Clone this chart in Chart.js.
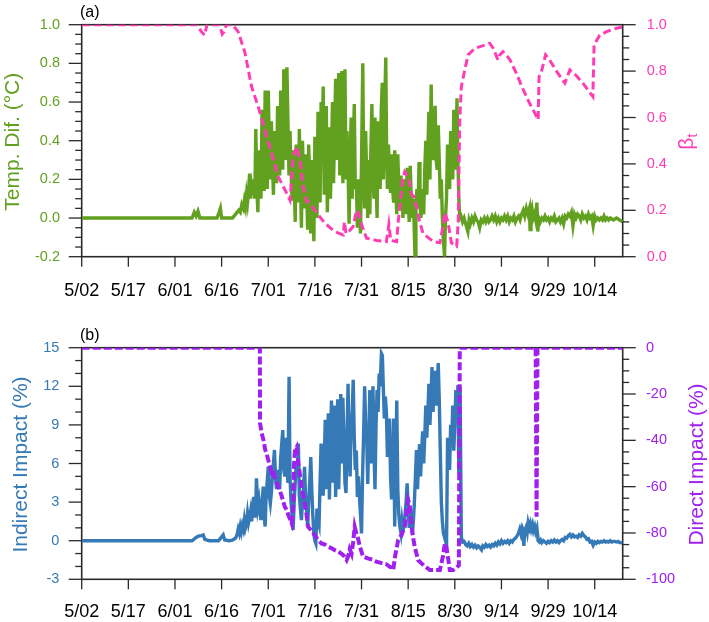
<!DOCTYPE html>
<html><head><meta charset="utf-8">
<script src="https://cdn.jsdelivr.net/npm/chart.js@4/dist/chart.umd.min.js"></script>
<style>
html,body{margin:0;padding:0;background:#fff;width:709px;height:622px;overflow:hidden}
canvas{position:absolute;left:0}
#ca{top:0}#cb{top:311px}
</style></head><body>
<canvas id="ca" width="709" height="311"></canvas>
<canvas id="cb" width="709" height="311"></canvas>
<script>
// ---------- data (day index since 5/02) ----------
const xTickDays = [0,15,30,45,60,75,90,105,120,135,150,165];
const xTickLabels = ['5/02','5/17','6/01','6/16','7/01','7/16','7/31','8/15','8/30','9/14','9/29','10/14'];
const tempTicks = [-0.2,0.0,0.2,0.4,0.6,0.8,1.0];
const betaTicks = [0.0,0.2,0.4,0.6,0.8,1.0];
const indirectTicks = [-3,0,3,6,9,12,15];
const directTicks = [-100,-80,-60,-40,-20,0];

// Temp. Dif. (°C)  [day, value]
const tempDif = [
[0,0],[35.5,0],[36.2,0.03],[36.8,0.01],[37.4,0.035],[38,0],[43.5,0],[44.2,0.03],[44.6,0.05],[45,0],[48.5,0],[49.5,0.02],[50.5,0.04],[51,0.03],[51.5,0.07],
[52,0.05],[52.33,0.09],[52.67,0.06],[53,0.12],[53.33,0.08],[53.67,0.14],[54,0.23],[54.33,0.1],[54.67,0.16],[55,0.12],[55.33,0.2],[55.67,0.1],
[56,0.46],[56.33,0.15],[56.67,0.03],[57,0.35],[57.33,0.2],[57.67,0.1],[58,0.56],[58.33,0.3],[58.67,0.14],[59,0.66],[59.33,0.35],[59.67,0.15],
[60,0.66],[60.33,0.4],[60.67,0.2],[61,0.5],[61.33,0.3],[61.67,0.12],[62,0.45],[62.33,0.35],[62.67,0.18],[63,0.58],[63.33,0.4],[63.67,0.22],
[64,0.66],[64.33,0.45],[64.67,0.25],[65,0.77],[65.33,0.5],[65.67,0.3],[66,0.78],[66.33,0.5],[66.67,0.22],[67,0.45],[67.33,0.25],[67.67,0.09],
[68,0.35],[68.33,0.2],[68.67,-0.02],[69,0.38],[69.33,0.25],[69.67,0.08],[70,0.46],[70.33,0.2],[70.67,-0.05],[71,0.4],[71.33,0.22],[71.67,0.05],
[72,0.33],[72.33,0.15],[72.67,-0.06],[73,0.38],[73.33,0.2],[73.67,-0.08],[74,0.3],[74.33,0.1],[74.67,-0.12],[75,0.42],[75.33,0.2],[75.67,0.0],
[76,0.55],[76.33,0.3],[76.67,0.08],[77,0.6],[77.33,0.4],[77.67,0.68],[78,0.12],[78.33,0.35],[78.67,0.58],[79,0.03],[79.33,0.3],[79.67,0.47],
[80,0.1],[80.33,0.35],[80.67,0.6],[81,0.18],[81.33,0.45],[81.67,0.72],[82,0.3],[82.33,0.5],[82.67,0.75],[83,0.22],[83.33,0.5],[83.67,0.76],
[84,0.18],[84.33,0.5],[84.67,0.77],[85,0.2],[85.33,0.45],[85.67,0.25],[86,-0.03],[86.33,0.3],[86.67,0.52],[87,0.1],[87.33,0.35],[87.67,0.59],
[88,0.15],[88.33,0.2],[88.67,-0.05],[89,0.2],[89.33,0.05],[89.67,-0.08],[90,0.3],[90.4,0.8],[90.67,0.3],[91,0.05],[91.33,0.45],[91.67,0.2],
[92,0.0],[92.33,0.3],[92.67,0.02],[93,0.35],[93.33,0.59],[93.67,0.25],[94,0.1],[94.33,0.52],[94.67,0.2],[95,0.0],[95.33,0.5],[95.67,0.3],
[96,0.15],[96.33,0.55],[96.67,0.7],[97,0.2],[97.33,0.5],[97.8,0.83],[98.1,0.3],[98.33,0.15],[98.67,0.38],[99,0.2],[99.33,0.13],[99.67,0.33],
[100,0.15],[100.33,0.08],[100.67,0.35],[101,0.15],[101.33,0.02],[101.67,0.33],[102,0.15],[102.33,0.05],[102.67,0.22],[103,0.1],[103.33,0.0],[103.67,0.2],
[104,0.08],[104.33,0.02],[104.67,0.26],[105,0.1],[105.33,-0.02],[105.67,0.27],[106,0.1],[106.33,0.0],[106.67,0.1],[107.2,-0.2],[107.5,0.05],[107.8,0.15],
[108.2,0.05],[108.5,0.29],[108.8,0.1],[109.1,0.0],[109.4,0.15],[109.7,0.05],[110,0.02],[110.33,0.25],[110.67,0.4],[111,0.12],[111.33,0.35],[111.67,0.55],
[112,0.2],[112.4,0.69],[112.7,0.35],[113,0.3],[113.33,0.45],[113.67,0.58],[114,0.3],[114.33,0.25],[114.67,0.48],[115,0.3],[115.33,0.1],[115.67,0.2],
[116,0.0],[116.33,-0.12],[116.7,-0.2],[117,0.0],[117.33,0.1],[117.67,0.38],[118,0.2],[118.33,0.15],[118.67,0.45],[119,0.3],[119.33,0.2],[119.67,0.56],
[120,0.4],[120.33,0.25],[120.7,0.62],[121,0.3],[121.3,0.1],[121.6,0.0],
[122,0.01],[122.5,-0.02],[123,0.0],[123.5,-0.03],[124.2,-0.07],[124.6,-0.01],[125,-0.03],[125.5,0.0],[126,-0.02],[126.5,0.01],[127,-0.01],[127.5,-0.02],
[128,-0.05],[128.5,-0.01],[129,-0.02],[129.5,0.0],[130,-0.02],[130.5,0.0],[131,-0.02],[131.5,-0.01],[132,0.01],[132.5,-0.01],[133,0.01],[133.5,-0.02],
[134,0.0],[134.5,-0.02],[135,0.0],[135.5,-0.01],[136,0.01],[136.5,-0.01],[137,0.01],[137.5,-0.02],[138,0.0],[138.5,-0.01],[139,0.01],[139.5,-0.02],
[140,0.0],[140.5,0.01],[141,-0.01],[141.5,0.02],[142,0.04],[142.5,0.01],[143,0.05],[143.5,0.02],[144,0.05],[144.2,-0.06],[144.5,0.03],[144.8,0.05],
[145.2,0.0],[145.6,0.02],[146,-0.01],[146.4,0.08],[146.7,-0.07],[147,0.0],[147.5,-0.02],[148,0.0],[148.5,-0.01],[149,0.01],[149.5,-0.01],[150,0.0],
[150.5,-0.02],[151,0.0],[151.5,-0.01],[152,0.01],[152.5,-0.02],[153,-0.01],[153.5,0.0],[154,-0.02],[154.5,0.0],[155,-0.03],[155.5,0.01],[156,0.0],
[156.5,0.02],[157,0.01],[157.5,0.03],[158,-0.04],[158.5,0.02],[159,0.0],[159.5,0.02],[160,0.01],[160.5,-0.01],[161,0.02],[161.5,0.0],[162,0.01],
[162.5,-0.01],[163,0.02],[163.5,0.0],[164,0.01],[164.5,-0.04],[165,0.01],[165.5,-0.01],[166,0.0],[166.5,-0.01],[167,0.0],[167.5,-0.01],[168,0.01],
[168.5,-0.01],[169,0.0],[169.5,-0.01],[170,0.0],[171,-0.01],[172,0.0],[173,-0.01],[174,-0.02]
];

// beta_t  [day, value]
const betaT = [
[0,1],[37,1],[38.5,0.97],[39.5,0.955],[40.3,1],[44.3,1],[45.2,0.96],[45.8,0.97],[46.5,1],[48.5,1],[50.3,0.97],[52.5,0.88],[54.6,0.735],[56.8,0.645],[58.9,0.545],[61.1,0.445],[63.2,0.345],[65.3,0.29],[67,0.244],[68,0.43],[69.1,0.474],[70.2,0.42],[71.2,0.3],[72.3,0.24],[73.5,0.23],[75,0.2],[78.2,0.144],[81.4,0.108],[84.1,0.094],[84.5,0.15],[85,0.1],[86,0.11],[87.3,0.13],[88.4,0.2],[89,0.19],[90,0.14],[91.6,0.08],[93.5,0.075],[94.8,0.07],[98,0.065],[98.8,0.14],[99.4,0.07],[101.3,0.065],[101.8,0.15],[102.3,0.215],[103.2,0.33],[103.9,0.366],[105,0.345],[106.1,0.27],[106.8,0.26],[107.7,0.215],[108.7,0.15],[109.8,0.1],[113,0.066],[115.2,0.06],[116.2,0.13],[116.8,0.19],[117.8,0.15],[118.9,0.06],[120,0.05],[120.6,0.045],[121.1,0.15],[121.6,0.59],[122.1,0.733],[123.2,0.805],[124.3,0.87],[126.4,0.898],[129.1,0.91],[131.2,0.92],[132.3,0.9],[133.9,0.848],[134.5,0.87],[135.5,0.884],[137.7,0.85],[139.8,0.79],[142,0.72],[144.1,0.66],[145.7,0.62],[146.8,0.59],[147.1,0.776],[147.9,0.8],[149.2,0.87],[150.5,0.848],[152.7,0.8],[155.4,0.748],[157,0.805],[159.1,0.78],[161.2,0.748],[164.4,0.69],[164.8,0.913],[166.6,0.955],[168.8,0.97],[172,0.985],[174,0.99]
];

// Indirect Impact (%)  [day, value]
const indirectImpact = [
[0,0],[35.5,0],[36.5,0.2],[37.5,0.35],[38.5,0.4],[39.1,0.45],[39.6,0.1],[41,0],[44,0],[45,0.3],[45.5,0.45],[46,0.05],[47.5,0],[48.5,0.05],[49.5,0.2],
[50,0.5],[50.33,0.9],[50.67,0.6],[51,1.1],[51.33,0.7],[51.67,1.2],[52,0.9],[52.33,1.6],[52.67,1.0],[53,1.3],[53.33,2.1],[53.67,1.4],
[54,1.8],[54.33,2.3],[54.67,1.5],[55,2.6],[55.33,3.4],[55.67,1.8],[56,2.8],[56.2,4.85],[56.67,2.6],[57,3.1],[57.33,2.2],[57.67,1.6],
[58,3.0],[58.4,4.2],[58.67,2.0],[59,1.1],[59.33,3.5],[59.67,4.6],[60,5.75],[60.33,3.5],[60.67,2.9],[61,3.7],[61.33,5.0],[61.67,6.0],
[62,7.05],[62.33,5.0],[62.67,4.0],[63,5.5],[63.33,4.5],[63.67,4.0],[64,6.5],[64.33,7.5],[64.67,8.6],[65,5.5],[65.33,5.0],[65.67,8.0],
[66,6.0],[66.33,4.5],[66.7,12.75],[67,5.0],[67.33,3.0],[67.67,2.0],[68,0.83],[68.33,3.0],[68.67,4.5],[69,6.0],[69.33,5.0],[69.67,7.55],
[70,3.5],[70.33,2.5],[70.67,1.6],[71,3.0],[71.33,4.0],[71.67,5.75],[72,3.5],[72.33,2.5],[72.67,1.1],[73,3.0],[73.33,4.5],[73.67,6.5],
[74,4.0],[74.33,2.0],[74.67,0.5],[75,0.0],[75.3,-0.2],[75.67,2.5],[76,1.5],[76.33,1.2],[76.67,4.5],[77,7.55],[77.33,5.0],[77.67,3.5],
[78,6.0],[78.33,9.4],[78.67,4.0],[79,7.0],[79.33,9.9],[79.67,3.2],[80,7.5],[80.33,10.9],[80.67,4.5],[81,8.0],[81.33,10.5],[81.67,3.4],
[82,7.0],[82.33,11.0],[82.67,4.0],[83,8.0],[83.33,11.4],[83.67,6.0],[84,11.1],[84.33,8.0],[84.67,4.5],[85,3.7],[85.33,8.0],[85.67,12.2],
[86,7.0],[86.33,5.0],[86.67,9.1],[87,10.0],[87.33,12.5],[87.67,8.0],[88,5.5],[88.33,7.0],[88.67,3.4],[89,5.0],[89.33,3.4],[89.67,2.0],
[90,0.57],[90.33,5.0],[90.67,8.3],[91,12.0],[91.33,9.0],[91.67,8.0],[92,4.4],[92.33,8.0],[92.67,11.7],[93,6.0],[93.33,9.0],[93.67,12.0],
[94,7.0],[94.33,4.0],[94.67,9.0],[95,11.7],[95.33,10.0],[95.67,13.0],[96,12.0],[96.4,14.55],[96.7,14.4],[97,12.0],[97.33,9.5],[97.67,11.2],
[98,10.0],[98.33,6.5],[98.67,8.5],[99,9.5],[99.33,5.0],[99.67,3.2],[100,6.0],[100.33,9.5],[100.67,1.1],[101,5.0],[101.33,10.9],[101.67,4.0],
[102,2.0],[102.33,1.1],[102.67,0.6],[103,1.5],[103.33,0.8],[103.67,1.1],[104,2.0],[104.33,3.0],[104.67,4.45],[105,2.5],[105.33,1.0],[105.67,2.5],
[106,1.2],[106.33,0.5],[106.67,1.5],[107,3.0],[107.33,5.0],[107.67,7.05],[108,4.0],[108.33,6.0],[108.67,7.5],[109,5.0],[109.33,7.0],[109.67,8.5],
[110,6.0],[110.33,8.0],[110.67,10.5],[111,8.0],[111.33,10.0],[111.67,12.2],[112,9.0],[112.33,11.0],[112.67,13.5],[113,10.0],[113.33,12.0],[113.67,13.2],
[114,10.5],[114.33,12.0],[114.67,13.8],[115,11.0],[115.33,7.0],[115.67,3.0],[116,1.5],[116.33,0.6],[116.67,0.3],[117,0.5],[117.33,-0.7],[117.67,8.0],
[118,6.5],[118.33,5.5],[118.67,9.0],[119,7.5],[119.33,10.5],[119.67,7.0],[120,9.0],[120.33,11.7],[120.67,9.5],[121,12.1],[121.3,5.2],[121.7,12.0],
[122.1,0.3],[122.5,-0.1],[123,-0.05],[123.5,-0.3],[124,-0.4],[124.5,-0.2],[125,-0.45],[125.5,-0.3],[126,-0.5],[126.5,-0.35],[127,-0.55],[127.5,-0.4],
[128,-0.5],[128.6,-0.7],[129,-0.4],[129.5,-0.5],[130,-0.3],[130.5,-0.45],[131,-0.35],[131.5,-0.5],[132,-0.3],[132.5,-0.4],[133,-0.2],[133.5,-0.35],
[134,-0.1],[134.5,-0.25],[135,0.0],[135.5,-0.2],[136,-0.05],[136.5,-0.15],[137,0.0],[137.5,-0.2],[138,0.0],[138.5,-0.1],[139,0.1],[139.5,0.2],
[140,0.35],[140.5,0.6],[140.9,0.9],[141.3,0.5],[141.7,1.0],[142,0.8],[142.2,-0.4],[142.5,0.8],[143,1.1],[143.3,0.7],[143.6,1.4],[144,1.0],
[144.3,1.3],[144.6,0.9],[145,1.25],[145.3,0.8],[145.7,1.1],[146,0.7],[146.4,1.0],[146.8,0.0],[147.2,-0.1],[147.6,0.05],[148,-0.15],[148.5,0.0],
[149,-0.1],[149.5,-0.2],[150,-0.05],[150.5,-0.15],[151,0.0],[151.5,-0.1],[152,0.05],[152.5,-0.1],[153,0.0],[153.5,-0.15],[154,0.0],[154.5,0.1],
[155,0.0],[155.5,0.25],[156,0.2],[156.5,0.4],[157,0.5],[157.5,0.3],[158,0.45],[158.5,0.3],[159,0.35],[159.5,0.25],[160,0.45],[160.5,0.35],
[161,0.57],[161.5,0.4],[162,0.3],[162.5,0.1],[163,0.15],[163.5,-0.1],[164,-0.05],[164.5,-0.35],[165,-0.1],[165.5,-0.2],[166,-0.05],[166.5,-0.15],
[167,-0.05],[167.5,-0.1],[168,0.0],[168.5,-0.1],[169,-0.05],[169.5,-0.1],[170,0.0],[170.5,-0.1],[171,-0.05],[171.5,-0.05],[172,-0.1],[172.5,-0.05],
[173,-0.15],[173.6,-0.15],[174,-0.2]
];

// Direct Impact (%)  [day, value]
const directImpact = [
[0,0],[57.3,0],[57.35,-32.6],[57.9,-37],[58.5,-40],[59,-44],[59.5,-46],[60,-48.5],[60.5,-51],[61.1,-54],[61.6,-53],[62.2,-57],[63.2,-60],[63.8,-62],[64.3,-64],[65.3,-68.6],[65.9,-70],[66.4,-72],[67,-74],[67.5,-75.8],[68,-70],[68.3,-50],[68.6,-44.2],[69.1,-43],[69.7,-50],[70.2,-55],[70.7,-60],[71.3,-64],[71.8,-68],[72.3,-72],[72.8,-77.3],[73.9,-79],[75,-81],[76,-83],[77.1,-84.5],[78.2,-85],[79.3,-86],[80.3,-86.5],[81.4,-87.4],[82.5,-88],[83.6,-89],[84.4,-90],[85.2,-91.7],[85.7,-90],[86.2,-87],[86.8,-89],[87.3,-84],[87.8,-77.3],[88.3,-80],[88.8,-82],[89.5,-86],[90.5,-90.2],[92,-91],[93.5,-91.5],[94.8,-92.4],[96.5,-93],[98,-93.5],[99.1,-94.6],[99.7,-95],[100.2,-96],[100.8,-90],[101.8,-83],[102.8,-81],[103.9,-77.3],[104.5,-70],[105,-65.8],[105.5,-68],[106.1,-77],[106.6,-82],[107.1,-86],[108.2,-91.7],[110,-94],[112,-96],[114,-96],[115.2,-96],[116.2,-90],[116.8,-84.5],[117.3,-86],[118.4,-96],[119.5,-96],[120.5,-95],[121.3,-94],[121.6,0],[146,0],[146.3,-73],[146.6,0],[174,0]
];

// ---------- styling ----------
const FAM = '"Liberation Sans", Arial, Helvetica, sans-serif';
const GREEN = '#62a01f', PINK = '#ff3cb4', BLUE = '#3579b6', PURPLE = '#a020f0';
const toXY = arr => arr.map(p => ({x: p[0], y: p[1]}));

function makePanelPlugin(cfg) {
  return {
    id: 'panel' + cfg.key,
    beforeDatasetsDraw(chart) {
      const {ctx, chartArea: a} = chart;
      ctx.save();
      ctx.strokeStyle = '#2a2a2a'; ctx.lineWidth = 1.6;
      ctx.strokeRect(a.left, a.top, a.right - a.left, a.bottom - a.top);
      ctx.restore();
    },
    afterDraw(chart) {
      const {ctx, chartArea: a, scales} = chart;
      ctx.save();
      ctx.strokeStyle = '#2a2a2a'; ctx.lineWidth = 1.3;
      const seg = (x1, y1, x2, y2) => { ctx.beginPath(); ctx.moveTo(x1, y1); ctx.lineTo(x2, y2); ctx.stroke(); };
      xTickDays.forEach(v => { const p = scales.x.getPixelForValue(v); seg(p, a.bottom, p, a.bottom + 10); });
      const axisTicks = (scale, min, max, major, minor, side) => {
        const n = Math.round((max - min) / minor), r = Math.round(major / minor);
        for (let k = 0; k <= n; k++) {
          const p = scale.getPixelForValue(min + k * minor);
          const len = (k % r === 0) ? 13 : 6.5;
          if (side === 'left') seg(a.left, p, a.left - len, p); else seg(a.right, p, a.right + len, p);
        }
      };
      axisTicks(scales.y, cfg.l[0], cfg.l[1], cfg.l[2], cfg.l[3], 'left');
      axisTicks(scales.y2, cfg.r[0], cfg.r[1], cfg.r[2], cfg.r[3], 'right');
      ctx.fillStyle = '#000'; ctx.font = '16px ' + FAM; ctx.textAlign = 'left'; ctx.textBaseline = 'alphabetic';
      ctx.fillText(cfg.label, 80, cfg.labelY);
      const vtext = (text, x, y, color) => {
        ctx.save(); ctx.translate(x, y); ctx.rotate(-Math.PI / 2);
        ctx.font = '21px ' + FAM; ctx.fillStyle = color; ctx.textAlign = 'center'; ctx.textBaseline = 'alphabetic';
        ctx.fillText(text, 0, 0); ctx.restore();
      };
      const cy = (a.top + a.bottom) / 2 + 1;
      vtext(cfg.leftTitle, cfg.leftTitleX, cy, cfg.leftColor);
      if (cfg.beta) {
        ctx.save(); ctx.translate(cfg.rightTitleX, cy); ctx.rotate(-Math.PI / 2);
        ctx.fillStyle = cfg.rightColor; ctx.textAlign = 'left'; ctx.textBaseline = 'alphabetic';
        ctx.font = '21px ' + FAM; const wb = ctx.measureText('β').width;
        ctx.font = '14px ' + FAM; const wt = ctx.measureText('t').width;
        const x0 = -(wb + wt) / 2;
        ctx.font = '21px ' + FAM; ctx.fillText('β', x0, 0);
        ctx.font = '14px ' + FAM; ctx.fillText('t', x0 + wb, 4);
        ctx.restore();
      } else {
        vtext(cfg.rightTitle, cfg.rightTitleX, cy, cfg.rightColor);
      }
      ctx.restore();
    }
  };
}

function makeChart(id, cfg) {
  const yFit = w => s => { s.width = w; s.paddingTop = 0; s.paddingBottom = 0; };
  return new Chart(document.getElementById(id), {
    type: 'line',
    data: {
      datasets: [
        { data: toXY(cfg.rightData), yAxisID: 'y2', borderColor: cfg.rightColor, borderWidth: cfg.rightWidth,
          borderDash: cfg.dash, pointRadius: 0, tension: 0, fill: false, borderCapStyle: 'butt' },
        { data: toXY(cfg.leftData), yAxisID: 'y', borderColor: cfg.leftColor, borderWidth: 3.4,
          pointRadius: 0, tension: 0, fill: false, borderJoinStyle: 'miter' }
      ]
    },
    options: {
      responsive: false, maintainAspectRatio: false, animation: false, devicePixelRatio: 1,
      layout: { padding: { top: cfg.target.top, left: 0, right: 0, bottom: 0 } },
      plugins: { legend: { display: false }, tooltip: { enabled: false } },
      scales: {
        x: {
          type: 'linear', min: 0, max: 174, position: 'bottom',
          afterBuildTicks: s => { s.ticks = xTickDays.map(v => ({ value: v })); },
          afterFit: s => { s.height = 311 - cfg.target.bottom; s.paddingLeft = 0; s.paddingRight = 0; },
          ticks: { autoSkip: false, maxRotation: 0, color: '#000', font: { size: 18, family: FAM }, padding: cfg.xPad,
                   callback: v => xTickLabels[xTickDays.indexOf(v)] },
          grid: { display: false, drawTicks: false }, border: { display: false }
        },
        y: {
          type: 'linear', position: 'left', min: cfg.l[0], max: cfg.l[1],
          afterBuildTicks: s => { s.ticks = cfg.lTicks.map(v => ({ value: v })); },
          afterFit: yFit(81.7),
          ticks: { color: cfg.leftColor, font: { size: 14.5, family: FAM }, padding: cfg.lPad,
                   callback: v => cfg.lFmt(v) },
          grid: { display: false, drawTicks: false }, border: { display: false }
        },
        y2: {
          type: 'linear', position: 'right', min: cfg.r[0], max: cfg.r[1],
          afterBuildTicks: s => { s.ticks = cfg.rTicks.map(v => ({ value: v })); },
          afterFit: yFit(86.3),
          ticks: { color: cfg.rightColor, font: { size: 14.5, family: FAM }, padding: cfg.rPad,
                   callback: v => cfg.rFmt(v) },
          grid: { display: false, drawTicks: false }, border: { display: false }
        }
      }
    },
    plugins: [makePanelPlugin(cfg)]
  });
}

makeChart('ca', {
  key: 'A', label: '(a)', labelY: 16.5, target: { top: 24.7, bottom: 256.7 }, xPad: 23.5, lPad: 21.7, rPad: 24,
  leftData: tempDif, rightData: betaT, leftColor: GREEN, rightColor: PINK, rightWidth: 3, dash: [8, 4],
  l: [-0.2, 1.0, 0.2, 0.05], r: [0, 1.0, 0.2, 0.05], lTicks: tempTicks, rTicks: betaTicks,
  lFmt: v => v.toFixed(1), rFmt: v => v.toFixed(1),
  leftTitle: 'Temp. Dif. (°C)', leftTitleX: 18.5, beta: true, rightTitleX: 693
});
makeChart('cb', {
  key: 'B', label: '(b)', labelY: 29, target: { top: 36.7, bottom: 268.3 }, xPad: 21.6, lPad: 22.3, rPad: 23.3,
  leftData: indirectImpact, rightData: directImpact, leftColor: BLUE, rightColor: PURPLE, rightWidth: 4, dash: [8, 3],
  l: [-3, 15, 3, 1], r: [-100, 0, 20, 5], lTicks: indirectTicks, rTicks: directTicks,
  lFmt: v => String(v), rFmt: v => String(v),
  leftTitle: 'Indirect Impact (%)', leftTitleX: 26.7, rightTitle: 'Direct Impact (%)', rightTitleX: 703
});
</script>
</body></html>
